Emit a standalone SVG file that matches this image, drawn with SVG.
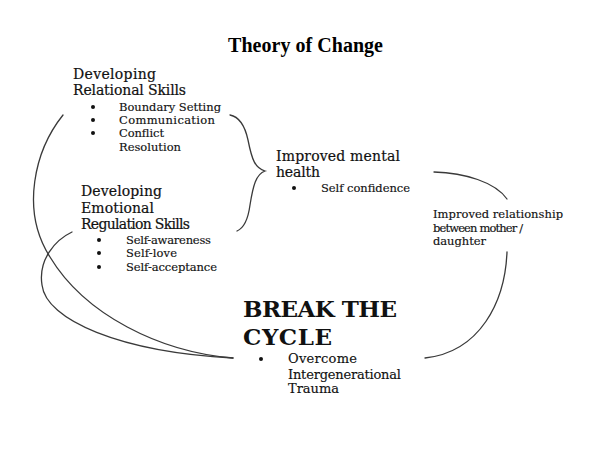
<svg xmlns="http://www.w3.org/2000/svg" width="603" height="457" viewBox="0 0 603 457">
<style>
  .bg { fill: #ffffff; }
  .title { font-family: "Liberation Serif", "Times New Roman", serif; font-weight: bold; font-size: 20px; fill: #000; }
  .lbl { font-family: "DejaVu Serif", "Liberation Serif", serif; font-size: 14px; fill: #111; stroke: #111; stroke-width: 0.2; }
  .sm { font-family: "DejaVu Serif", "Liberation Serif", serif; font-size: 11.5px; fill: #111; stroke: #111; stroke-width: 0.15; }
  .md { font-family: "DejaVu Serif", "Liberation Serif", serif; font-size: 13px; fill: #111; stroke: #111; stroke-width: 0.15; }
  .big { font-family: "DejaVu Serif", "Liberation Serif", serif; font-size: 23px; font-weight: bold; fill: #111; }
  .dot { fill: #111; }
  .conn { fill: none; stroke: #3a3a3a; stroke-width: 1.3; stroke-linecap: round; }
</style>
<rect class="bg" x="0" y="0" width="603" height="457"/>

<g id="title">
  <text class="title" x="305.5" y="52" text-anchor="middle" textLength="155">Theory of Change</text>
</g>

<g id="relational-skills">
  <text class="lbl" x="73" y="79" textLength="83">Developing</text>
  <text class="lbl" x="73" y="95" textLength="113">Relational Skills</text>
  <circle class="dot" cx="93" cy="107" r="2"/>
  <circle class="dot" cx="93" cy="120" r="2"/>
  <circle class="dot" cx="93" cy="133" r="2"/>
  <text class="sm" x="119" y="111" textLength="102">Boundary Setting</text>
  <text class="sm" x="119" y="124" textLength="96">Communication</text>
  <text class="sm" x="119" y="137" textLength="45">Conflict</text>
  <text class="sm" x="119" y="151" textLength="62">Resolution</text>
</g>

<g id="emotional-regulation">
  <text class="lbl" x="81" y="196" textLength="81">Developing</text>
  <text class="lbl" x="81" y="213" textLength="73">Emotional</text>
  <text class="lbl" x="81" y="229" textLength="109">Regulation Skills</text>
  <circle class="dot" cx="99" cy="240" r="2"/>
  <circle class="dot" cx="99" cy="253" r="2"/>
  <circle class="dot" cx="99" cy="267" r="2"/>
  <text class="sm" x="126" y="244" textLength="85">Self-awareness</text>
  <text class="sm" x="126" y="257" textLength="51">Self-love</text>
  <text class="sm" x="126" y="271" textLength="91">Self-acceptance</text>
</g>

<g id="mental-health">
  <text class="lbl" x="276" y="161" textLength="124">Improved mental</text>
  <text class="lbl" x="276" y="177" textLength="44">health</text>
  <circle class="dot" cx="294" cy="188" r="2"/>
  <text class="sm" x="321" y="192" textLength="89">Self confidence</text>
</g>

<g id="relationship">
  <text class="sm" x="433" y="218" textLength="130">Improved relationship</text>
  <text class="sm" x="433" y="232" textLength="90">between mother /</text>
  <text class="sm" x="433" y="245" textLength="53">daughter</text>
</g>

<g id="break-the-cycle">
  <text class="big" x="243" y="317" textLength="154">BREAK THE</text>
  <text class="big" x="243" y="345" textLength="89">CYCLE</text>
  <circle class="dot" cx="261" cy="359" r="2"/>
  <text class="md" x="288" y="363" textLength="69">Overcome</text>
  <text class="md" x="288" y="379" textLength="113">Intergenerational</text>
  <text class="md" x="288" y="393" textLength="51">Trauma</text>
</g>

<g id="connectors">
  <path class="conn" d="M230,115 C240,117 245,126 248,140 C252,160 255,168 265,171 C256,174 253,186 250,205 C248,220 244,228 237,231"/>
  <path class="conn" d="M434,172 C465,173 495,182 507,199"/>
  <path class="conn" d="M507,252 C505,302 480,352 425,358"/>
  <path class="conn" d="M63,115 C35,150 20,210 50,257 C85,315 160,352 233,358"/>
  <path class="conn" d="M72,232 C55,240 38,260 42,285 C46,320 120,352 233,358"/>
</g>
</svg>
